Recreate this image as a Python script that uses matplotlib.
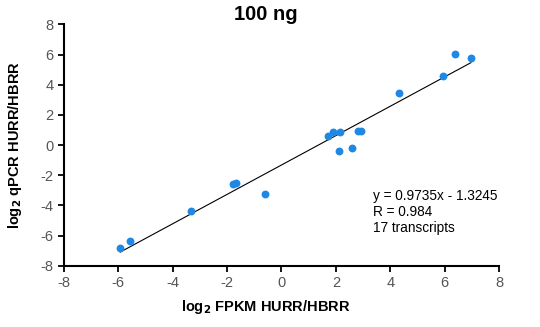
import matplotlib
matplotlib.use("Agg")
import matplotlib.pyplot as plt
import numpy as np

plt.rcParams['font.family'] = ['Liberation Sans', 'DejaVu Sans']

# log2 FPKM vs log2 qPCR, HURR/HBRR
fpkm = [-5.93, -5.58, -3.33, -1.78, -1.67, -0.62, 1.71, 1.88, 2.16, 2.11,
        2.60, 2.80, 2.92, 4.31, 5.95, 6.37, 6.97]
qpcr = [-6.83, -6.34, -4.38, -2.59, -2.52, -3.25, 0.60, 0.88, 0.86, -0.40,
        -0.22, 0.95, 0.95, 3.47, 4.57, 6.06, 5.79]
slope = 0.9735
intercept = -1.3245
r_value = 0.984
ticks = [-8, -6, -4, -2, 0, 2, 4, 6, 8]

fig = plt.figure(figsize=(5.4, 3.27), dpi=100)
ax = fig.add_axes([0.1185, 0.1875, 0.8055, 0.738])

ax.scatter(fpkm, qpcr, s=32, color='#1f88e5', zorder=3, linewidths=0)

# fitted line across the data range
x_fit = np.array([min(fpkm), max(fpkm)])
ax.plot(x_fit, slope * x_fit + intercept, color='black', lw=0.8, zorder=2)

ax.set_xlim(-8, 8)
ax.set_ylim(-8, 8)
ax.set_xticks(ticks)
ax.set_yticks(ticks)
ax.set_xticklabels([str(t) for t in ticks])
ax.set_yticklabels([str(t) for t in ticks])
ax.tick_params(direction='out', length=4, width=1.3, labelsize=10.5,
               labelcolor='#555555', color='black')
for side in ['top', 'right']:
    ax.spines[side].set_visible(False)
for side in ['left', 'bottom']:
    ax.spines[side].set_linewidth(1.5)

ax.text(3.36, -4.45, f"y = {slope}x - {abs(intercept)}\nR = {r_value}\n17 transcripts",
        fontsize=9.8, va='center', ha='left', linespacing=1.15)

fig.text(266 / 540, 1 - 15 / 327, '100 ng', fontsize=14.5, fontweight='bold',
         ha='center', va='center')
fig.text(266 / 540, 1 - 307 / 327, r'log$_\mathbf{2}$ FPKM HURR/HBRR',
         fontsize=10.5, fontweight='bold', ha='center', va='center')
fig.text(15 / 540, 1 - 145 / 327, r'log$_\mathbf{2}$ qPCR HURR/HBRR',
         fontsize=10.5, fontweight='bold', ha='center', va='center',
         rotation=90)

fig.savefig('out.png', dpi=100)
